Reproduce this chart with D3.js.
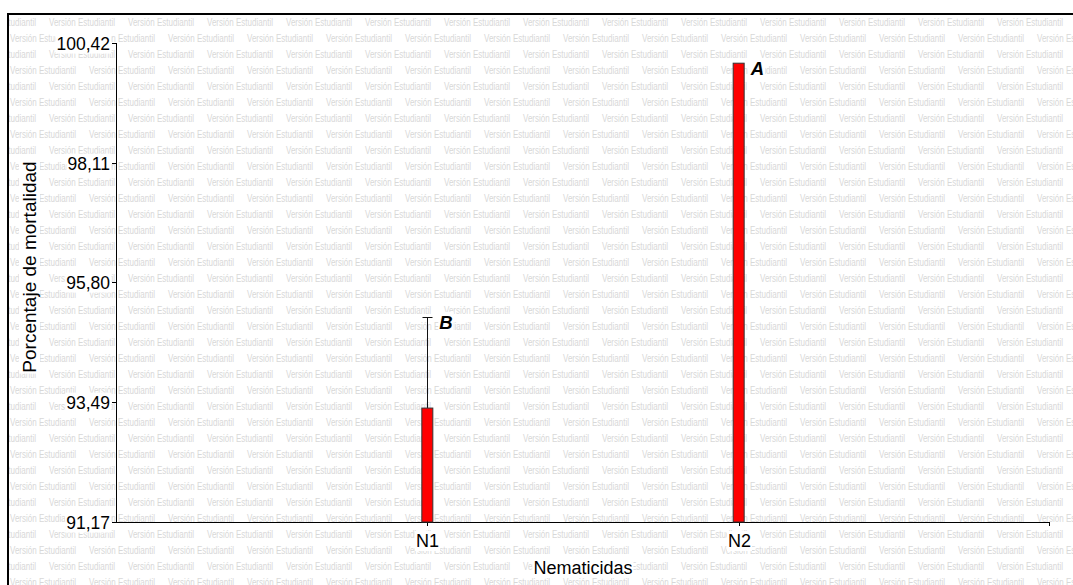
<!DOCTYPE html>
<html><head><meta charset="utf-8">
<script src="https://cdn.jsdelivr.net/npm/d3@7"></script>
<style>body{margin:0;background:#fff}svg{display:block}</style>
</head><body>
<svg id="c" width="1073" height="585"></svg>
<script>
// ---- data ----
const categories = ["N1", "N2"];
const means = [93.37, 100.03];
const errors = [1.76, 0];
const letters = ["B", "A"];
const yTicks = [91.17, 93.49, 95.80, 98.11, 100.42];
const xTitle = "Nematicidas";
const yTitle = "Porcentaje de mortalidad";
const watermarkText = "Versión Estudiantil";

// ---- setup ----
const W = 1073, H = 585;
const svg = d3.select("#c");
const font = "'Liberation Sans', Arial, sans-serif";
const plot = {left: 116, right: 1050, top: 43, bottom: 522};

const y = d3.scaleLinear().domain([yTicks[0], yTicks[yTicks.length - 1]]).range([plot.bottom, plot.top]);
const x = d3.scalePoint().domain(categories).range([plot.left, plot.right]).padding(1);
const fmt = v => d3.format(".2f")(v).replace(".", ",");

// watermark
svg.append("clipPath").attr("id", "wm").append("rect").attr("x", 9).attr("y", 15).attr("width", W).attr("height", H);
const wm = svg.append("g").attr("clip-path", "url(#wm)");
const period = 79, rowH = 16;
for (let r = 0; r < 38; r++) {
  const by = 26 + r * rowH;
  const start = (r % 2 === 0) ? -30 : 10;
  for (let cx = start; cx < W; cx += period) {
    wm.append("text").attr("x", cx).attr("y", by)
      .attr("font-family", "'Liberation Sans Narrow', 'Arial Narrow', 'Liberation Sans', sans-serif")
      .attr("font-size", 10).attr("fill", "#d8d8d8")
      .attr("textLength", 66).attr("lengthAdjust", "spacingAndGlyphs")
      .text(watermarkText);
  }
}

// frame
svg.append("rect").attr("x", 8).attr("y", 14).attr("width", W).attr("height", H + 20)
  .attr("fill", "none").attr("stroke", "#000").attr("stroke-width", 2);

const bgLayer = svg.append("g");
const g = svg.append("g");
const labels = [];

// y axis
g.append("line").attr("x1", plot.left + 0.5).attr("x2", plot.left + 0.5)
  .attr("y1", plot.top).attr("y2", plot.bottom).attr("stroke", "#000");
yTicks.forEach(v => {
  const yy = Math.round(y(v)) + 0.5;
  g.append("line").attr("x1", plot.left - 4).attr("x2", plot.left).attr("y1", yy).attr("y2", yy).attr("stroke", "#000");
  labels.push(g.append("text").attr("x", plot.left - 6).attr("y", yy).attr("dy", "0.35em")
    .attr("text-anchor", "end").attr("font-family", font).attr("font-size", 17.5).text(fmt(v)));
});

// x axis
g.append("line").attr("x1", plot.left).attr("x2", plot.right)
  .attr("y1", plot.bottom + 0.5).attr("y2", plot.bottom + 0.5).attr("stroke", "#000");
g.append("line").attr("x1", plot.right - 0.5).attr("x2", plot.right - 0.5)
  .attr("y1", plot.bottom).attr("y2", plot.bottom + 4).attr("stroke", "#000");
categories.forEach(c => {
  const xx = Math.round(x(c)) + 0.5;
  g.append("line").attr("x1", xx).attr("x2", xx).attr("y1", plot.bottom).attr("y2", plot.bottom + 4).attr("stroke", "#000");
  labels.push(g.append("text").attr("x", xx).attr("y", plot.bottom + 25)
    .attr("text-anchor", "middle").attr("font-family", font).attr("font-size", 18).text(c));
});

// bars, error bars, letters
const bw = 11;
categories.forEach((c, i) => {
  const cx = x(c);
  const ex = Math.round(cx) + 0.5;
  const top = means[i] + errors[i];
  if (errors[i] > 0) {
    const ty = Math.round(y(top)) + 0.5;
    g.append("line").attr("x1", ex).attr("x2", ex).attr("y1", y(means[i])).attr("y2", ty).attr("stroke", "#111");
    g.append("line").attr("x1", ex - 5).attr("x2", ex + 5).attr("y1", ty).attr("y2", ty).attr("stroke", "#111");
  }
  g.append("rect").attr("x", cx - bw / 2).attr("y", y(means[i])).attr("width", bw)
    .attr("height", y(yTicks[0]) - y(means[i])).attr("fill", "#ff0000").attr("stroke", "#333").attr("stroke-width", 1);
  labels.push(g.append("text").attr("x", cx + 12).attr("y", y(top) + 12)
    .attr("font-family", font).attr("font-size", 18.5).attr("font-weight", "bold").attr("font-style", "italic").text(letters[i]));
});

// titles
labels.push(g.append("text").attr("x", (plot.left + plot.right) / 2).attr("y", 574)
  .attr("text-anchor", "middle").attr("font-family", font).attr("font-size", 18).text(xTitle));
labels.push(g.append("text").attr("transform", "translate(36,267) rotate(-90)")
  .attr("text-anchor", "middle").attr("font-family", font).attr("font-size", 19).text(yTitle));

// white backgrounds behind labels
labels.forEach(t => {
  const b = t.node().getBBox();
  const tr = t.attr("transform");
  bgLayer.append("rect").attr("x", b.x - 1).attr("y", b.y).attr("width", b.width + 2).attr("height", b.height)
    .attr("fill", "#fff").attr("transform", tr);
});
</script>
</body></html>
